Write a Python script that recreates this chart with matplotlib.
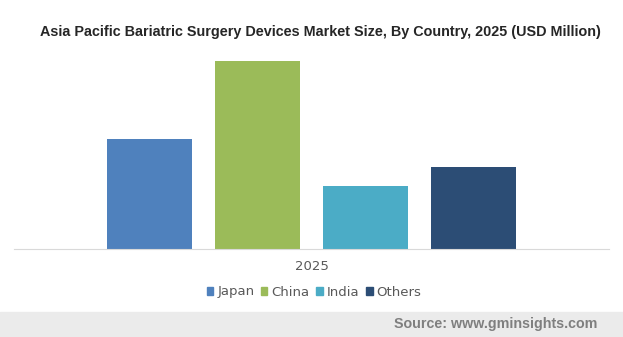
import matplotlib.pyplot as plt
from matplotlib.patches import Patch, Rectangle

# data (USD Million)
countries = ["Japan", "China", "India", "Others"]
values = [110, 188, 63, 82]
colors = ["#4f81bd", "#9bbb59", "#4bacc6", "#2c4d75"]
year_label = "2025"

W, H = 623, 337
fig = plt.figure(figsize=(W / 100, H / 100), dpi=100)

# axes placed in pixel terms
left, right, base, top = 14, 609, 249, 50
ax = fig.add_axes([left / W, (H - base) / H, (right - left) / W, (base - top) / H])

x = [0, 1, 2, 3]
ax.bar(x, values, width=0.79, color=colors)
half = (right - left) / 108 / 2
ax.set_xlim(1.5 - half, 1.5 + half)
ax.set_ylim(0, 199)

for s in ["top", "left", "right"]:
    ax.spines[s].set_visible(False)
ax.spines["bottom"].set_color("#d9d9d9")
ax.set_yticks([])
ax.set_xticks([1.5])
ax.set_xticklabels([year_label], fontsize=9.5, color="#595959")
ax.tick_params(axis="x", length=0, pad=8)

# title
fig.text(320 / W, 1 - 32 / H,
         "Asia Pacific Bariatric Surgery Devices Market Size, By Country, 2025 (USD Million)",
         ha="center", va="center", fontsize=10.4, fontweight="bold",
         family="Liberation Sans", color="#262626")

# legend
handles = [Patch(color=c, label=n) for n, c in zip(countries, colors)]
fig.legend(handles=handles, loc="center", bbox_to_anchor=(314 / W, 1 - 292 / H),
           ncol=4, frameon=False, fontsize=9.5, handlelength=0.5, handleheight=0.5,
           handletextpad=0.3, columnspacing=0.5, labelcolor="#595959")

# footer band
fig.patches.append(Rectangle((0, 0), 1, (H - 312) / H, transform=fig.transFigure,
                             color="#ebebeb", zorder=0))
fig.text(597 / W, 1 - 324 / H, "Source: www.gminsights.com", ha="right", va="center",
         fontsize=10.3, fontweight="bold", family="Liberation Sans", color="#7f7f7f")

fig.savefig("out.png", dpi=100)
